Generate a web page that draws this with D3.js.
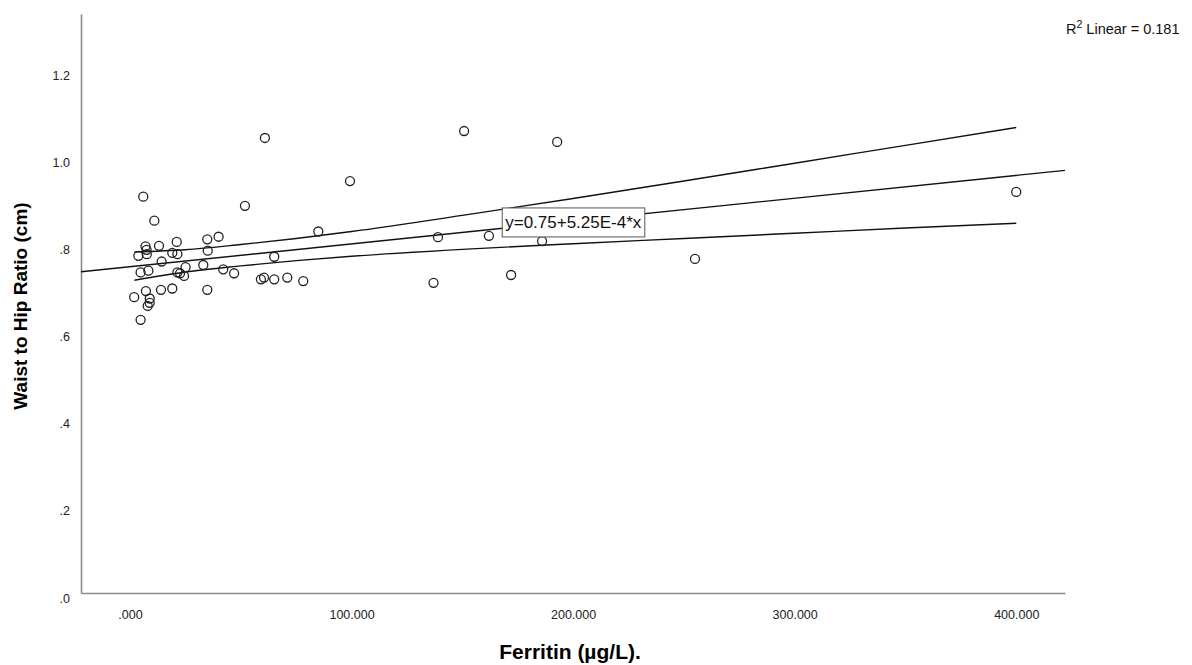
<!DOCTYPE html>
<html>
<head>
<meta charset="utf-8">
<script src="https://cdn.jsdelivr.net/npm/d3@7"></script>
<style>
    body { margin: 0; background: #fff; }
    .tick_labels { font-family: Arial, "Liberation Sans", sans-serif; font-size: 12.5px; fill: #222; }
    .axis_title { font-family: Arial, "Liberation Sans", sans-serif; font-size: 19px; font-weight: bold; fill: #000; }
    .fitline { fill: none; stroke: #111; stroke-width: 1.4px; }
</style>
</head>
<body>
<script>
// Ferritin (x) against waist to hip ratio (y)
var ferritin = [6.0, 11.0, 51.9, 7.0, 7.5, 3.8, 7.6, 13.1, 21.1, 19.1,
                21.4, 14.3, 34.9, 40.0, 35.1, 4.8, 8.3, 21.4, 22.6, 24.4,
                25.1, 33.1, 42.1, 47.0, 59.1, 60.5, 1.9, 7.2, 14.0, 19.1,
                34.9, 8.9, 8.9, 8.0, 4.8, 60.9, 99.3, 150.8, 192.8, 400.0,
                85.0, 65.1, 65.1, 71.0, 78.2, 139.0, 162.0, 186.0, 137.0, 172.0,
                255.0];
var whr = [0.911, 0.856, 0.890, 0.797, 0.789, 0.775, 0.779, 0.798, 0.807, 0.782,
           0.779, 0.762, 0.813, 0.819, 0.787, 0.737, 0.741, 0.737, 0.735, 0.729,
           0.749, 0.754, 0.744, 0.735, 0.721, 0.725, 0.680, 0.694, 0.697, 0.700,
           0.697, 0.677, 0.667, 0.660, 0.628, 1.046, 0.947, 1.062, 1.037, 0.922,
           0.831, 0.773, 0.721, 0.725, 0.717, 0.818, 0.821, 0.809, 0.713, 0.731,
           0.768];

// fit line from the label, and the mean confidence band
var fit_intercept = 0.75,
    fit_slope = 5.25e-4,
    r_squared = "0.181";
var band_x     = [2, 25, 50, 75, 100, 150, 200, 250, 300, 350, 400];
var band_upper = [0.784, 0.789, 0.801, 0.815, 0.831, 0.868, 0.907, 0.947, 0.988, 1.029, 1.070];
var band_lower = [0.719, 0.738, 0.752, 0.764, 0.774, 0.790, 0.803, 0.815, 0.827, 0.839, 0.850];

var x_ticks = [0, 100, 200, 300, 400];
var x_tick_labels = [".000", "100.000", "200.000", "300.000", "400.000"];
var y_ticks = [0, 0.2, 0.4, 0.6, 0.8, 1.0, 1.2];
var y_tick_labels = [".0", ".2", ".4", ".6", ".8", "1.0", "1.2"];

var width = 1192, height = 665;

var svg = d3.select("body")
        .append("svg")
        .attr("width", width)
        .attr("height", height);

// Scaling
var scale_x = d3.scaleLinear()
        .domain([-22.1, 422])
        .range([81, 1065]);
var scale_y = d3.scaleLinear()
        .domain([0, 1.331])
        .range([593, 14]);

// axis lines (no tick marks, SPSS style)
var x_axis = svg.append("g")
        .attr("transform", "translate(0," + scale_y(0) + ")")
        .call(d3.axisBottom(scale_x)
                .tickValues(x_ticks)
                .tickSize(0)
                .tickPadding(17)
                .tickFormat(function(d, i){ return x_tick_labels[i]; }));
var y_axis = svg.append("g")
        .attr("transform", "translate(" + scale_x.range()[0] + ",0)")
        .call(d3.axisLeft(scale_y)
                .tickValues(y_ticks)
                .tickSize(0)
                .tickPadding(11)
                .tickFormat(function(d, i){ return y_tick_labels[i]; }));

svg.selectAll(".domain")
        .style("stroke", "#8a8a8a")
        .style("stroke-width", 1.6);
svg.selectAll(".tick text")
        .attr("class", "tick_labels")
        .style("font-size", null)
        .style("font-family", null);
y_axis.selectAll(".tick text").attr("dy", "0.72em");

// confidence band lines
var band_line = d3.line()
        .x(function(d){ return scale_x(d[0]); })
        .y(function(d){ return scale_y(d[1]); })
        .curve(d3.curveMonotoneX);

svg.append("path")
        .attr("class", "fitline")
        .attr("d", band_line(d3.zip(band_x, band_upper)));
svg.append("path")
        .attr("class", "fitline")
        .attr("d", band_line(d3.zip(band_x, band_lower)));

// fit line across the whole x range
var fit_ends = scale_x.domain().map(function(v){ return [v, fit_intercept + fit_slope * v]; });
svg.append("path")
        .attr("class", "fitline")
        .attr("d", d3.line()
                .x(function(d){ return scale_x(d[0]); })
                .y(function(d){ return scale_y(d[1]); })(fit_ends));

// points
svg.append("g")
        .selectAll("circle")
        .data(d3.zip(ferritin, whr))
        .enter()
        .append("circle")
        .attr("cx", function(d){ return scale_x(d[0]); })
        .attr("cy", function(d){ return scale_y(d[1]); })
        .attr("r", 4.5)
        .style("fill", "none")
        .style("stroke", "#222")
        .style("stroke-width", 1.3);

// equation label
var label = svg.append("g")
        .attr("transform", "translate(" + scale_x(168) + "," + scale_y(0.853) + ")");
var label_text = label.append("text")
        .text("y=" + fit_intercept + "+" + "5.25E-4" + "*x")
        .attr("x", 3)
        .attr("y", 6)
        .style("font-family", "Arial, 'Liberation Sans', sans-serif")
        .style("font-size", "17px")
        .style("fill", "#111");
var bb = label_text.node().getBBox();
label.insert("rect", "text")
        .attr("x", 0)
        .attr("y", -14)
        .attr("width", bb.width + 6)
        .attr("height", 29)
        .style("fill", "#fff")
        .style("stroke", "#555")
        .style("stroke-width", 1);

// R squared note
var r2 = svg.append("text")
        .attr("x", 1066)
        .attr("y", 34)
        .style("font-family", "Arial, 'Liberation Sans', sans-serif")
        .style("font-size", "14.5px")
        .style("fill", "#111");
r2.append("tspan").text("R");
r2.append("tspan").text("2").attr("dy", -6).style("font-size", "10.5px");
r2.append("tspan").text(" Linear = " + r_squared).attr("dy", 6);

// axis titles
svg.append("text")
        .text("Ferritin (µg/L).")
        .attr("class", "axis_title")
        .style("font-size", "21px")
        .attr("x", 570)
        .attr("y", 659)
        .attr("text-anchor", "middle");
svg.append("text")
        .text("Waist to Hip Ratio (cm)")
        .attr("class", "axis_title")
        .attr("transform", "translate(27," + 306 + ") rotate(270)")
        .attr("text-anchor", "middle");
</script>
</body>
</html>
